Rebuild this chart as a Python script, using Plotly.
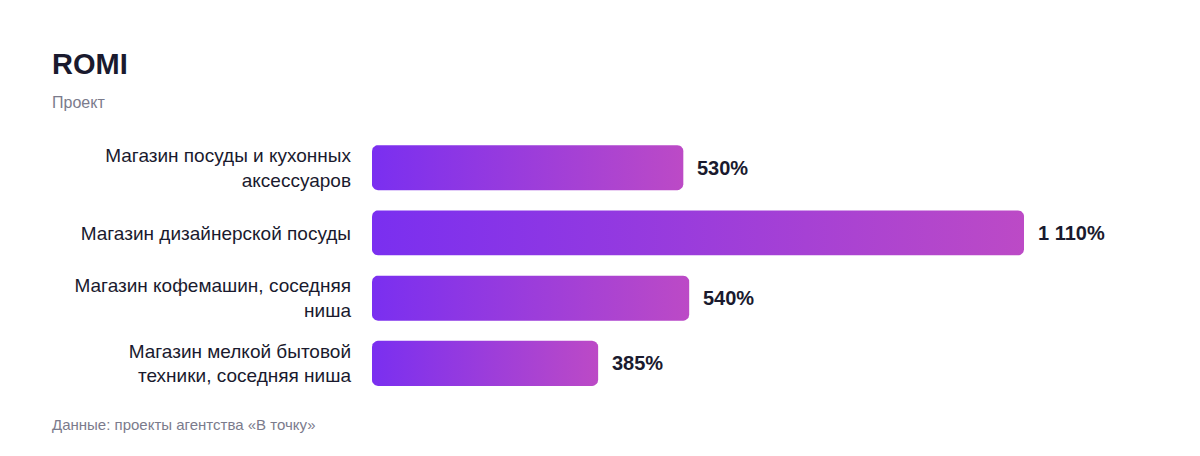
import plotly.graph_objects as go
import numpy as np

categories = [
    "Магазин посуды и кухонных<br>аксессуаров",
    "Магазин дизайнерской посуды",
    "Магазин кофемашин, соседняя<br>ниша",
    "Магазин мелкой бытовой<br>техники, соседняя ниша",
]
romi_values = [530, 1110, 540, 385]
title_text = "ROMI"
subtitle_text = "Проект"
source_text = "Данные: проекты агентства «В точку»"

OFF = 8  # page body margin
W, H = 1200, 456
ML, MR, MT, MB = 372 - OFF, 100, 135 - OFF, 60 + OFF
plot_w = W - ML - MR
plot_h = H - MT - MB
px_per_unit = (1024 - 372) / 1110.0
xmax = plot_w / px_per_unit
n = len(categories)
px_per_cat = plot_h / n
bar_px = 45
radius_px = 6

C0, C1 = "#7A2FF0", "#BC4AC6"
TXT = "#1A1A2E"
GRAY = "#7B7B8C"
FONT = "Liberation Sans, Arial, sans-serif"


def fmt(v):
    return f"{v:,}".replace(",", " ") + "%"


def rounded_bar(v, yc):
    half = bar_px / 2 / px_per_cat
    rx = radius_px / px_per_unit
    ry = radius_px / px_per_cat
    x0, x1 = 0.0, float(v)
    y0, y1 = yc - half, yc + half
    pts = []
    t = np.linspace(0, np.pi / 2, 8)
    corners = [
        (x1 - rx, y0 + ry, -np.pi / 2),
        (x1 - rx, y1 - ry, 0.0),
        (x0 + rx, y1 - ry, np.pi / 2),
        (x0 + rx, y0 + ry, np.pi),
    ]
    for cx, cy, a0 in corners:
        for a in a0 + t:
            pts.append((cx + rx * np.cos(a), cy + ry * np.sin(a)))
    pts.append(pts[0])
    xs, ys = zip(*pts)
    return list(xs), list(ys)


fig = go.Figure()
for i, v in enumerate(romi_values):
    xs, ys = rounded_bar(v, i)
    fig.add_trace(go.Scatter(
        x=xs, y=ys, mode="lines", fill="toself",
        line=dict(width=0, color=C0),
        fillgradient=dict(type="horizontal", colorscale=[[0, C0], [1, C1]]),
        hoverinfo="skip", showlegend=False,
    ))
    fig.add_annotation(
        x=v, y=i, xref="x", yref="y", text=fmt(v), showarrow=False,
        xanchor="left", yanchor="middle", xshift=12,
        font=dict(family=FONT, size=20, color=TXT, weight="bold"),
    )

def px_to_paper_x(px):
    return (px - OFF - ML) / plot_w

def px_to_paper_y(py):
    return (H - MB - (py - OFF)) / plot_h

fig.add_annotation(text=f"<b>{title_text}</b>", xref="paper", yref="paper",
                   x=px_to_paper_x(50), y=px_to_paper_y(64), xanchor="left", yanchor="middle",
                   showarrow=False, font=dict(family=FONT, size=29, color=TXT))
fig.add_annotation(text=subtitle_text, xref="paper", yref="paper",
                   x=px_to_paper_x(50), y=px_to_paper_y(102), xanchor="left", yanchor="middle",
                   showarrow=False, font=dict(family=FONT, size=16, color=GRAY))
fig.add_annotation(text=source_text, xref="paper", yref="paper",
                   x=px_to_paper_x(50), y=px_to_paper_y(424), xanchor="left", yanchor="middle",
                   showarrow=False, font=dict(family=FONT, size=15, color=GRAY))

fig.update_layout(
    width=W, height=H,
    margin=dict(l=ML, r=MR, t=MT, b=MB),
    paper_bgcolor="white", plot_bgcolor="white",
    xaxis=dict(range=[0, xmax], visible=False, fixedrange=True),
    yaxis=dict(range=[n - 0.5, -0.5], tickvals=list(range(n)), ticktext=categories,
               showgrid=False, zeroline=False, showline=False, ticks="",
               ticklabelstandoff=20, fixedrange=True,
               tickfont=dict(family=FONT, size=19, color=TXT)),
    showlegend=False,
)
fig.write_html("out.html")
